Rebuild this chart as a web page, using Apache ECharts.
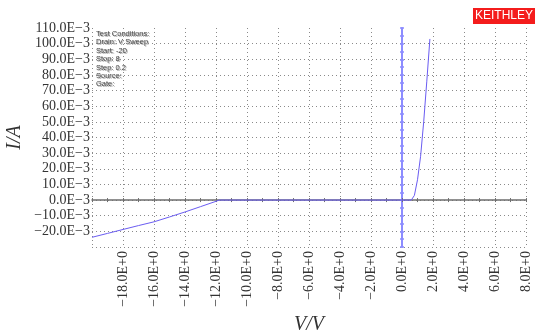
<!DOCTYPE html>
<html>
<head>
<meta charset="utf-8">
<script src="https://cdn.jsdelivr.net/npm/echarts@6/dist/echarts.min.js"></script>
<style>
  html, body { margin: 0; padding: 0; background: #fff; }
  #chart { width: 536px; height: 332px; }
</style>
</head>
<body>
<div id="chart"></div>
<script>
const voltage = [-20, -19, -18, -17, -16, -15, -14, -13, -12, -11.8, 0.6, 0.8, 1.0, 1.2, 1.4, 1.6, 1.8]
const current = [-0.0238, -0.0213, -0.0188, -0.0163, -0.0139, -0.0108, -0.0076, -0.0042, -0.0008, 0, 0, 0.003, 0.013, 0.028, 0.050, 0.076, 0.103]

const testConditions = ['Test Conditions:', 'Drain: V Sweep', 'Start: -20', 'Stop: 8', 'Step: 0.2', 'Source:', 'Gate:']

const X_MIN = -20, X_MAX = 8, X_STEP = 2
const Y_MIN = -0.03, Y_MAX = 0.11, Y_STEP = 0.01

const MINUS = '\u2212'
const fmtX = v => (v < 0 ? MINUS : '') + Math.abs(v).toFixed(1) + 'E+0'
const fmtY = v => {
  const m = Math.round(v * 1000)
  return (m < 0 ? MINUS : '') + Math.abs(m).toFixed(1) + 'E' + MINUS + '3'
}

const serif = '"Liberation Serif", "DejaVu Serif", serif'
const dotted = { color: '#8a8a8a', width: 1, type: [1, 3] }

const chart = echarts.init(document.getElementById('chart'), null, { renderer: 'canvas' })

const textLines = []
testConditions.forEach((t, i) => {
  // the instrument printout shows every line slightly doubled
  textLines.push({
    type: 'text', left: 97, top: 31 + i * 8.4, silent: true,
    style: { text: t, font: '7.5px "Liberation Sans", sans-serif', fill: 'rgba(80,80,80,0.5)' },
  })
  textLines.push({
    type: 'text', left: 96, top: 30 + i * 8.4, silent: true,
    style: { text: t, font: '7.5px "Liberation Sans", sans-serif', fill: '#444' },
  })
})

const option = {
  animation: false,
  backgroundColor: '#fff',
  grid: { left: 92, right: 10, top: 28, bottom: 85, outerBoundsMode: 'none', containLabel: false },
  xAxis: [
    {
      type: 'value', min: X_MIN, max: X_MAX, interval: X_STEP,
      position: 'bottom',
      name: 'V/V', nameLocation: 'middle', nameGap: 66,
      nameTextStyle: { fontFamily: serif, fontStyle: 'italic', fontSize: 20, color: '#333' },
      axisLine: { show: false, onZero: false },
      axisTick: { show: false },
      axisLabel: {
        rotate: 90, margin: 4, formatter: fmtX, showMinLabel: false, showMaxLabel: true,
        fontFamily: serif, fontSize: 14, color: '#333',
      },
      splitLine: { show: true, lineStyle: dotted },
    },
    {
      type: 'value', min: X_MIN, max: X_MAX, interval: 1,
      position: 'bottom',
      axisLine: { show: true, onZero: true, lineStyle: { color: '#6e6e6e', width: 1.5 } },
      axisTick: { show: true, inside: false, length: 2, lineStyle: { color: '#6e6e6e' } },
      axisLabel: { show: false },
      splitLine: { show: false },
    },
    {
      type: 'value', min: X_MIN, max: X_MAX, interval: 1,
      position: 'bottom',
      axisLine: { show: false, onZero: true },
      axisTick: { show: true, inside: true, length: 2, lineStyle: { color: '#6e6e6e' } },
      axisLabel: { show: false },
      splitLine: { show: false },
    },
  ],
  yAxis: [
    {
      type: 'value', min: Y_MIN, max: Y_MAX, interval: Y_STEP,
      position: 'left',
      name: 'I/A', nameLocation: 'middle', nameGap: 67, nameMoveOverlap: false,
      nameTextStyle: { fontFamily: serif, fontStyle: 'italic', fontSize: 20, color: '#333' },
      axisLine: { show: false, onZero: false },
      axisTick: { show: false },
      axisLabel: {
        margin: 2, formatter: fmtY, showMinLabel: false, showMaxLabel: true,
        fontFamily: serif, fontSize: 14, color: '#333',
      },
      splitLine: { show: true, lineStyle: dotted, showMaxLine: false },
    },
    {
      type: 'value', min: Y_MIN, max: Y_MAX, interval: 0.005,
      position: 'left',
      axisLine: { show: true, onZero: true, lineStyle: { color: '#8c8cff', width: 2 } },
      axisTick: { show: true, inside: false, length: 2, lineStyle: { color: '#8c8cff', width: 1.5 } },
      axisLabel: { show: false },
      splitLine: { show: false },
    },
    {
      type: 'value', min: Y_MIN, max: Y_MAX, interval: 0.005,
      position: 'left',
      axisLine: { show: false, onZero: true },
      axisTick: { show: true, inside: true, length: 2, lineStyle: { color: '#8c8cff', width: 1.5 } },
      axisLabel: { show: false },
      splitLine: { show: false },
    },
  ],
  graphic: [
    {
      type: 'group', right: 1, top: 8,
      children: [
        { type: 'rect', shape: { x: 0, y: 0, width: 62, height: 16 }, style: { fill: '#f41c1c' } },
        {
          type: 'text', x: 31, y: 8,
          style: {
            text: 'KEITHLEY', fill: '#fff', align: 'center', verticalAlign: 'middle',
            font: '12px "Liberation Sans", sans-serif',
          },
        },
      ],
    },
    ...textLines,
  ],
  series: [
    {
      type: 'line',
      xAxisIndex: 0, yAxisIndex: 0,
      data: voltage.map((v, i) => [v, current[i]]),
      showSymbol: false,
      smooth: false,
      lineStyle: { color: '#6a5cf2', width: 1 },
      z: 5,
    },
  ],
}

chart.setOption(option)
</script>
</body>
</html>
